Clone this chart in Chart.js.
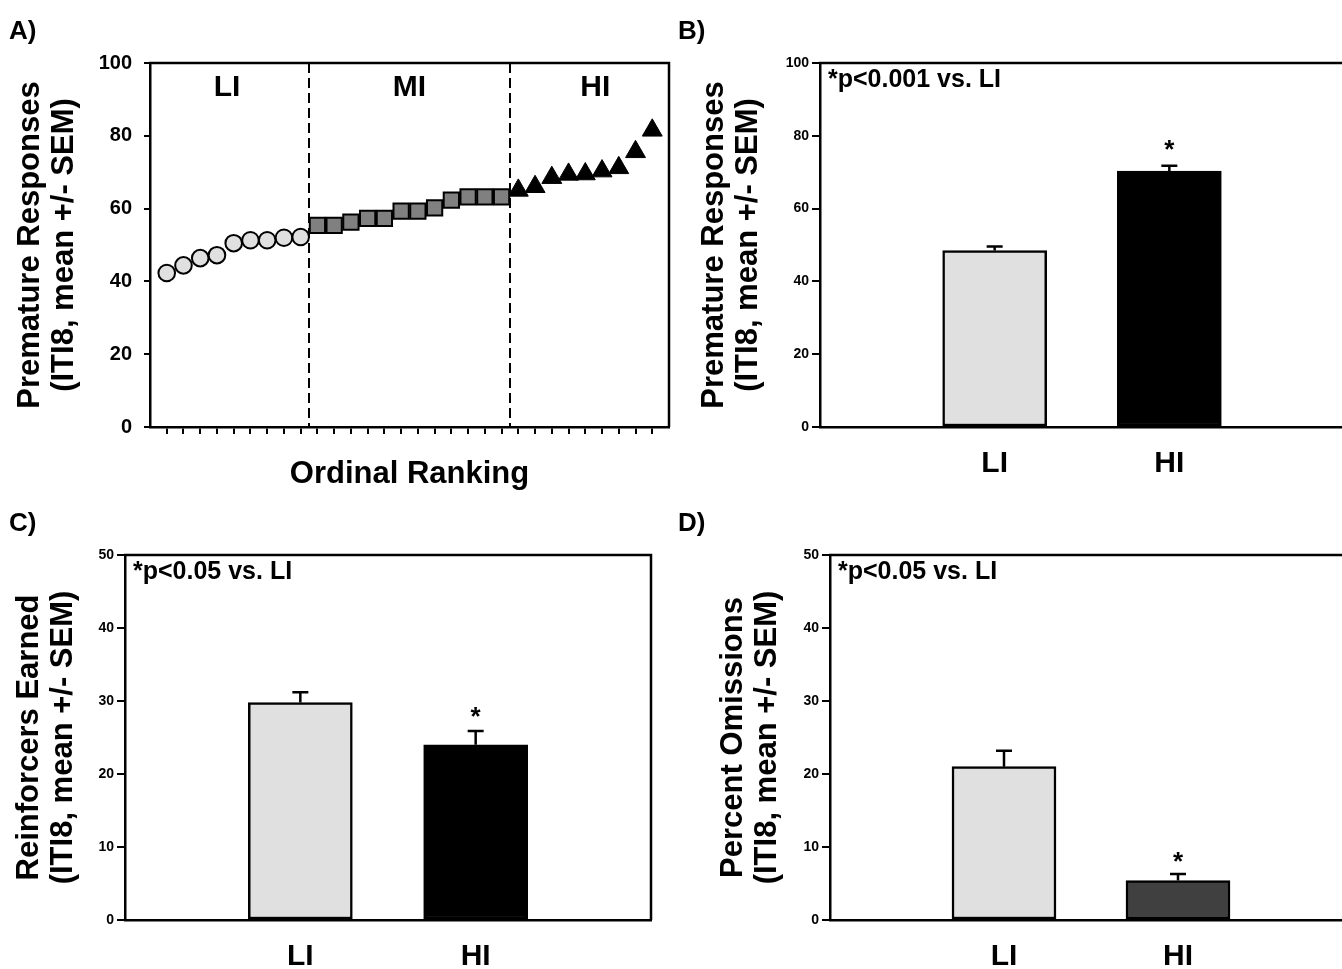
<!DOCTYPE html>
<html><head><meta charset="utf-8">
<script src="https://cdn.jsdelivr.net/npm/chart.js@4.4.0/dist/chart.umd.min.js"></script>
<style>
html,body{margin:0;padding:0;background:#fff;overflow:hidden;width:1342px;height:969px;}
#wrap{position:relative;width:1342px;height:969px;overflow:hidden;background:#fff;}
canvas{position:absolute;display:block;}
</style></head><body>
<div id="wrap">
<canvas id="cA" width="675" height="500" style="left:0;top:0;width:675px;height:500px"></canvas>
<canvas id="cB" width="690" height="500" style="left:675px;top:0;width:690px;height:500px"></canvas>
<canvas id="cC" width="675" height="479" style="left:0;top:490px;width:675px;height:479px"></canvas>
<canvas id="cD" width="690" height="479" style="left:675px;top:490px;width:690px;height:479px"></canvas>
</div>
<script>
// ---------- DATA ----------
// Panel A: ordinal ranking of premature responses per subject
const rankLI = [42.3, 44.4, 46.4, 47.2, 50.5, 51.3, 51.3, 52.0, 52.2];
const rankMI = [55.4, 55.4, 56.3, 57.3, 57.3, 59.3, 59.3, 60.2, 62.3, 63.2, 63.2, 63.2];
const rankHI = [65.0, 66.0, 68.5, 69.4, 69.5, 70.3, 71.2, 75.6, 81.5];
const regionNames = ['LI', 'MI', 'HI'];
const regionLabelPos = [4.6, 15.5, 26.6];   // ordinal position of region labels
const regionBounds = [9.5, 21.5];           // dashed split lines between groups
const yTicksA = [0, 20, 40, 60, 80, 100];

// Bar panels
const groups = ['LI', 'HI'];
const premMean = [48.5, 70.3];
const premSem = [1.1, 1.5];
const reinfMean = [29.8, 24.0];
const reinfSem = [1.4, 1.9];
const omisMean = [21.0, 5.4];
const omisSem = [2.2, 0.9];
const significant = [false, true];

const FONT = '"Liberation Sans", Arial, Helvetica, sans-serif';
Chart.defaults.font.family = FONT;
Chart.defaults.color = '#000';

// ---------- PLUGINS ----------
const framePlugin = {
  id: 'frame',
  afterDraw(chart, args, o) {
    const {ctx, chartArea: a} = chart;
    ctx.save();
    ctx.strokeStyle = '#000';
    ctx.lineWidth = 2.5;
    ctx.beginPath();
    ctx.moveTo(a.left - 1, a.top);
    ctx.lineTo(a.right, a.top);
    if (o.right) ctx.lineTo(a.right, a.bottom);
    ctx.stroke();
    ctx.fillStyle = '#000';
    ctx.textAlign = 'left';
    ctx.textBaseline = 'middle';
    ctx.font = 'bold 26px ' + FONT;
    ctx.fillText(o.letter, o.lx, o.ly);
    if (o.note) {
      ctx.font = 'bold 25px ' + FONT;
      ctx.fillText(o.note, a.left + o.nx, a.top + o.ny);
    }
    ctx.restore();
  }
};

const regionPlugin = {
  id: 'regions',
  beforeDatasetsDraw(chart, args, o) {
    if (!o.on) return;
    const {ctx, chartArea: a, scales: {x}} = chart;
    ctx.save();
    ctx.strokeStyle = '#000';
    ctx.lineWidth = 2;
    ctx.setLineDash([10, 5]);
    regionBounds.forEach(b => {
      const px = Math.round(x.getPixelForValue(b));
      ctx.beginPath();
      ctx.moveTo(px, a.top);
      ctx.lineTo(px, a.bottom);
      ctx.stroke();
    });
    ctx.setLineDash([]);
    ctx.fillStyle = '#000';
    ctx.font = 'bold 30px ' + FONT;
    ctx.textAlign = 'center';
    ctx.textBaseline = 'middle';
    regionNames.forEach((n, i) => {
      ctx.fillText(n, x.getPixelForValue(regionLabelPos[i]), a.top + 25);
    });
    ctx.restore();
  }
};

const errPlugin = {
  id: 'errbars',
  afterDatasetsDraw(chart, args, o) {
    if (!o.means) return;
    const meta = chart.getDatasetMeta(0);
    const ys = chart.scales.y;
    const ctx = chart.ctx;
    ctx.save();
    ctx.strokeStyle = '#000';
    ctx.lineWidth = 2.5;
    meta.data.forEach((bar, i) => {
      const yTop = ys.getPixelForValue(o.means[i] + o.sems[i]);
      const yM = ys.getPixelForValue(o.means[i]);
      ctx.beginPath();
      ctx.moveTo(bar.x, yM);
      ctx.lineTo(bar.x, yTop);
      ctx.moveTo(bar.x - 8, yTop);
      ctx.lineTo(bar.x + 8, yTop);
      ctx.stroke();
      if (significant[i]) {
        ctx.fillStyle = '#000';
        ctx.font = 'bold 26px ' + FONT;
        ctx.textAlign = 'center';
        ctx.textBaseline = 'alphabetic';
        ctx.fillText('*', bar.x, yTop - o.starGap);
      }
    });
    ctx.restore();
  }
};
Chart.register(framePlugin, regionPlugin, errPlugin);

function yAxis(max, step, tickFont, titleLines, titlePad, width, tickLen, tickPad) {
  return {
    type: 'linear', min: 0, max: max,
    ticks: {stepSize: step, font: {size: tickFont, weight: 'bold'}, color: '#000', padding: tickPad},
    grid: {drawOnChartArea: false, drawTicks: true, tickLength: tickLen, color: '#000', lineWidth: 2},
    border: {display: true, color: '#000', width: 2.5},
    title: {display: true, text: titleLines, color: '#000',
            font: {size: 31, weight: 'bold', lineHeight: 1.1}, padding: {top: titlePad, bottom: 0}},
    afterFit(s) { s.width = width; }
  };
}

function barChart(id, means, sems, colors, yMax, yStep, titleLines, titlePad, axisW, pad, axisH, letter, lx, note, rightBorder, starGap) {
  return new Chart(document.getElementById(id), {
    type: 'bar',
    data: {
      datasets: [{
        data: groups.map((g, i) => ({x: i + 1, y: means[i]})),
        backgroundColor: colors,
        borderColor: '#000',
        borderWidth: 2.5,
        borderSkipped: false,
        barThickness: 104
      }]
    },
    options: {
      responsive: false, animation: false, devicePixelRatio: 1,
      layout: {padding: pad, autoPadding: false},
      plugins: {
        legend: {display: false}, tooltip: {enabled: false},
        frame: {letter: letter, lx: lx, ly: pad.top - 31, note: note, nx: 8, ny: 17, right: rightBorder},
        errbars: {means: means, sems: sems, starGap: starGap},
        regions: {on: false}
      },
      scales: {
        x: {
          type: 'linear', min: 0, max: groups.length + 1, offset: false,
          afterBuildTicks(s) { s.ticks = groups.map((g, i) => ({value: i + 1})); },
          ticks: {callback: v => groups[v - 1], font: {size: 30, weight: 'bold'}, color: '#000',
                  padding: 19, autoSkip: false, maxRotation: 0},
          grid: {display: false, drawTicks: false},
          border: {display: true, color: '#000', width: 2.5},
          afterFit(s) { s.height = axisH; }
        },
        y: yAxis(yMax, yStep, 14, titleLines, titlePad, axisW, 8, 3)
      }
    }
  });
}

// ---------- PANEL A ----------
const off2 = rankLI.length, off3 = rankLI.length + rankMI.length;
const ranks = [...rankLI, ...rankMI, ...rankHI].map((v, i) => i + 1);
new Chart(document.getElementById('cA'), {
  type: 'scatter',
  data: {
    datasets: [
      {data: rankLI.map((v, i) => ({x: i + 1, y: v})), pointStyle: 'circle', pointRadius: 8.3,
       pointBackgroundColor: '#e0e0e0', pointBorderColor: '#000', pointBorderWidth: 2},
      {data: rankMI.map((v, i) => ({x: off2 + i + 1, y: v})), pointStyle: 'rect', pointRadius: 10.8,
       pointBackgroundColor: '#808080', pointBorderColor: '#000', pointBorderWidth: 2},
      {data: rankHI.map((v, i) => ({x: off3 + i + 1, y: v})), pointStyle: 'triangle', pointRadius: 11.5,
       pointBackgroundColor: '#000', pointBorderColor: '#000', pointBorderWidth: 1}
    ]
  },
  options: {
    responsive: false, animation: false, devicePixelRatio: 1,
    layout: {padding: {left: 0, top: 63, right: 6, bottom: 0}, autoPadding: false},
    plugins: {
      legend: {display: false}, tooltip: {enabled: false},
      frame: {letter: 'A)', lx: 9, ly: 32, right: true},
      regions: {on: true}
    },
    scales: {
      x: {
        type: 'linear', min: 0, max: ranks.length + 1,
        afterBuildTicks(s) { s.ticks = ranks.map(v => ({value: v})); },
        ticks: {display: false},
        grid: {drawOnChartArea: false, drawTicks: true, tickLength: 7, color: '#000', lineWidth: 2},
        border: {display: true, color: '#000', width: 2.5},
        title: {display: true, text: 'Ordinal Ranking', color: '#000',
                font: {size: 31, weight: 'bold', lineHeight: 1.1}, padding: {top: 0, bottom: 8}},
        afterFit(s) { s.height = 73; }
      },
      y: Object.assign(yAxis(100, 20, 20, ['Premature Responses', '(ITI8, mean +/- SEM)'], 13, 150, 6, 12),
        {afterBuildTicks(s) { s.ticks = yTicksA.map(v => ({value: v})); }})
    }
  }
});

// ---------- PANEL B ----------
barChart('cB', premMean, premSem, ['#e0e0e0', '#000000'], 100, 20,
  ['Premature Responses', '(ITI8, mean +/- SEM)'], 22, 145,
  {left: 0, top: 63, right: 21, bottom: 0}, 73, 'B)', 3, '*p<0.001 vs. LI', false, 8);

// ---------- PANEL C ----------
barChart('cC', reinfMean, reinfSem, ['#e0e0e0', '#000000'], 50, 10,
  ['Reinforcers Earned', '(ITI8, mean +/- SEM)'], 12, 125,
  {left: 0, top: 65, right: 24, bottom: 0}, 49, 'C)', 9, '*p<0.05 vs. LI', true, 6);

// ---------- PANEL D ----------
barChart('cD', omisMean, omisSem, ['#e0e0e0', '#404040'], 50, 10,
  ['Percent Omissions', '(ITI8, mean +/- SEM)'], 41, 155,
  {left: 0, top: 65, right: 13, bottom: 0}, 49, 'D)', 3, '*p<0.05 vs. LI', false, 4);
</script>
</body></html>
